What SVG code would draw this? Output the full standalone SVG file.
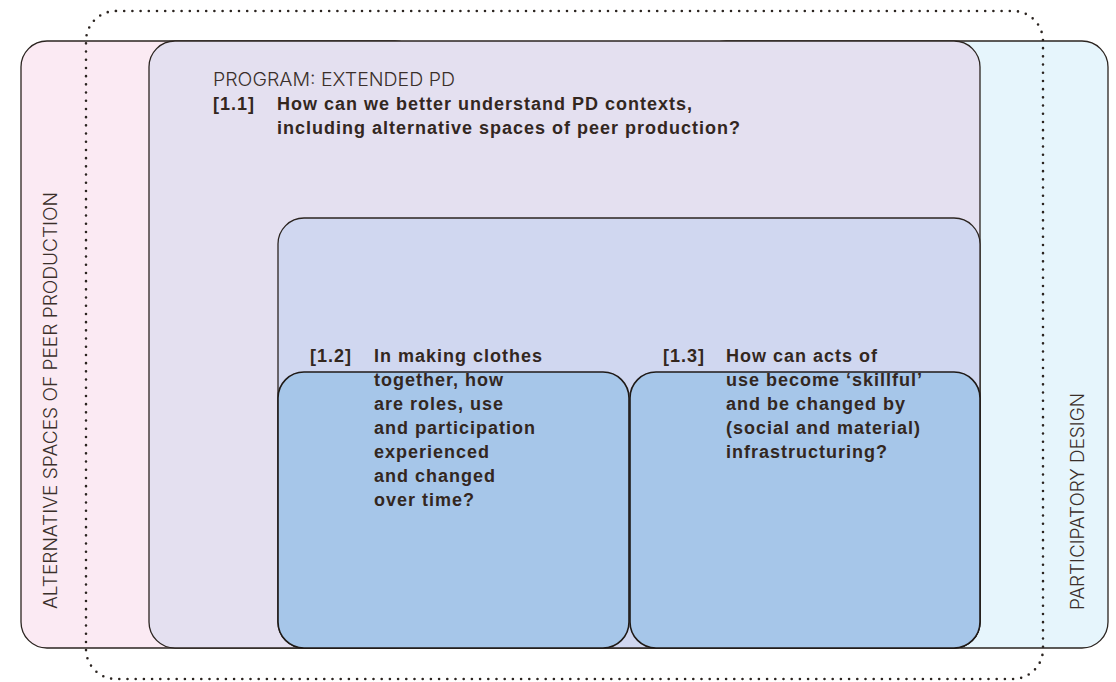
<svg xmlns="http://www.w3.org/2000/svg" width="1116" height="682" viewBox="0 0 1116 682">
<style>
.box{stroke:#2b2420;stroke-width:1.3}
.qb{stroke:#1f1a17;stroke-width:1.6}
.lbl{font-family:"Inter","Liberation Sans",sans-serif;font-weight:300;font-size:18px;fill:#3a2f2a}
.q{font-family:"Liberation Sans",Arial,sans-serif;font-weight:bold;font-size:18px;letter-spacing:1px;fill:#33271f}
.dots{fill:none;stroke:#2b2420;stroke-width:2.6;stroke-linecap:round;stroke-dasharray:0 8.2}
</style>
<rect width="1116" height="682" fill="#ffffff"/>
<g id="alt-spaces">
<rect class="box" x="21" y="41" width="400" height="607" rx="26" fill="#FBEAF3"/>
<text class="lbl" transform="translate(57,609) rotate(-90)" textLength="417" lengthAdjust="spacingAndGlyphs">ALTERNATIVE SPACES OF PEER PRODUCTION</text>
</g>
<g id="participatory-design">
<rect class="box" x="700" y="41" width="408" height="607" rx="26" fill="#E6F5FC"/>
<text class="lbl" transform="translate(1084,610) rotate(-90)" textLength="217" lengthAdjust="spacingAndGlyphs">PARTICIPATORY DESIGN</text>
</g>
<g id="program">
<rect class="box" x="149" y="41" width="831" height="607" rx="26" fill="#E4E0F0"/>
<text class="lbl" x="213" y="86" font-size="17" textLength="242" lengthAdjust="spacingAndGlyphs">PROGRAM: EXTENDED PD</text>
<text class="q" x="213" y="110">[1.1]</text>
<text class="q" x="277" y="110">How can we better understand PD contexts,</text>
<text class="q" x="277" y="134">including alternative spaces of peer production?</text>
</g>
<g id="inner">
<rect class="box" x="278" y="218" width="702" height="430" rx="26" fill="#D0D7F0"/>
</g>
<g id="q12">
<rect class="box qb" x="278" y="372" width="351" height="276" rx="26" fill="#A6C6E9"/>
<text class="q" x="310" y="362">[1.2]</text>
<text class="q" x="374" y="362">In making clothes</text>
<text class="q" x="374" y="386">together, how</text>
<text class="q" x="374" y="410">are roles, use</text>
<text class="q" x="374" y="434">and participation</text>
<text class="q" x="374" y="458">experienced</text>
<text class="q" x="374" y="482">and changed</text>
<text class="q" x="374" y="506">over time?</text>
</g>
<g id="q13">
<rect class="box qb" x="630" y="372" width="350" height="276" rx="26" fill="#A6C6E9"/>
<text class="q" x="663" y="362">[1.3]</text>
<text class="q" x="726" y="362">How can acts of</text>
<text class="q" x="726" y="386">use become ‘skillful’</text>
<text class="q" x="726" y="410">and be changed by</text>
<text class="q" x="726" y="434">(social and material)</text>
<text class="q" x="726" y="458">infrastructuring?</text>
</g>
<g id="connectors">
<rect class="dots" x="86" y="11" width="957" height="668" rx="30"/>
</g>
</svg>
